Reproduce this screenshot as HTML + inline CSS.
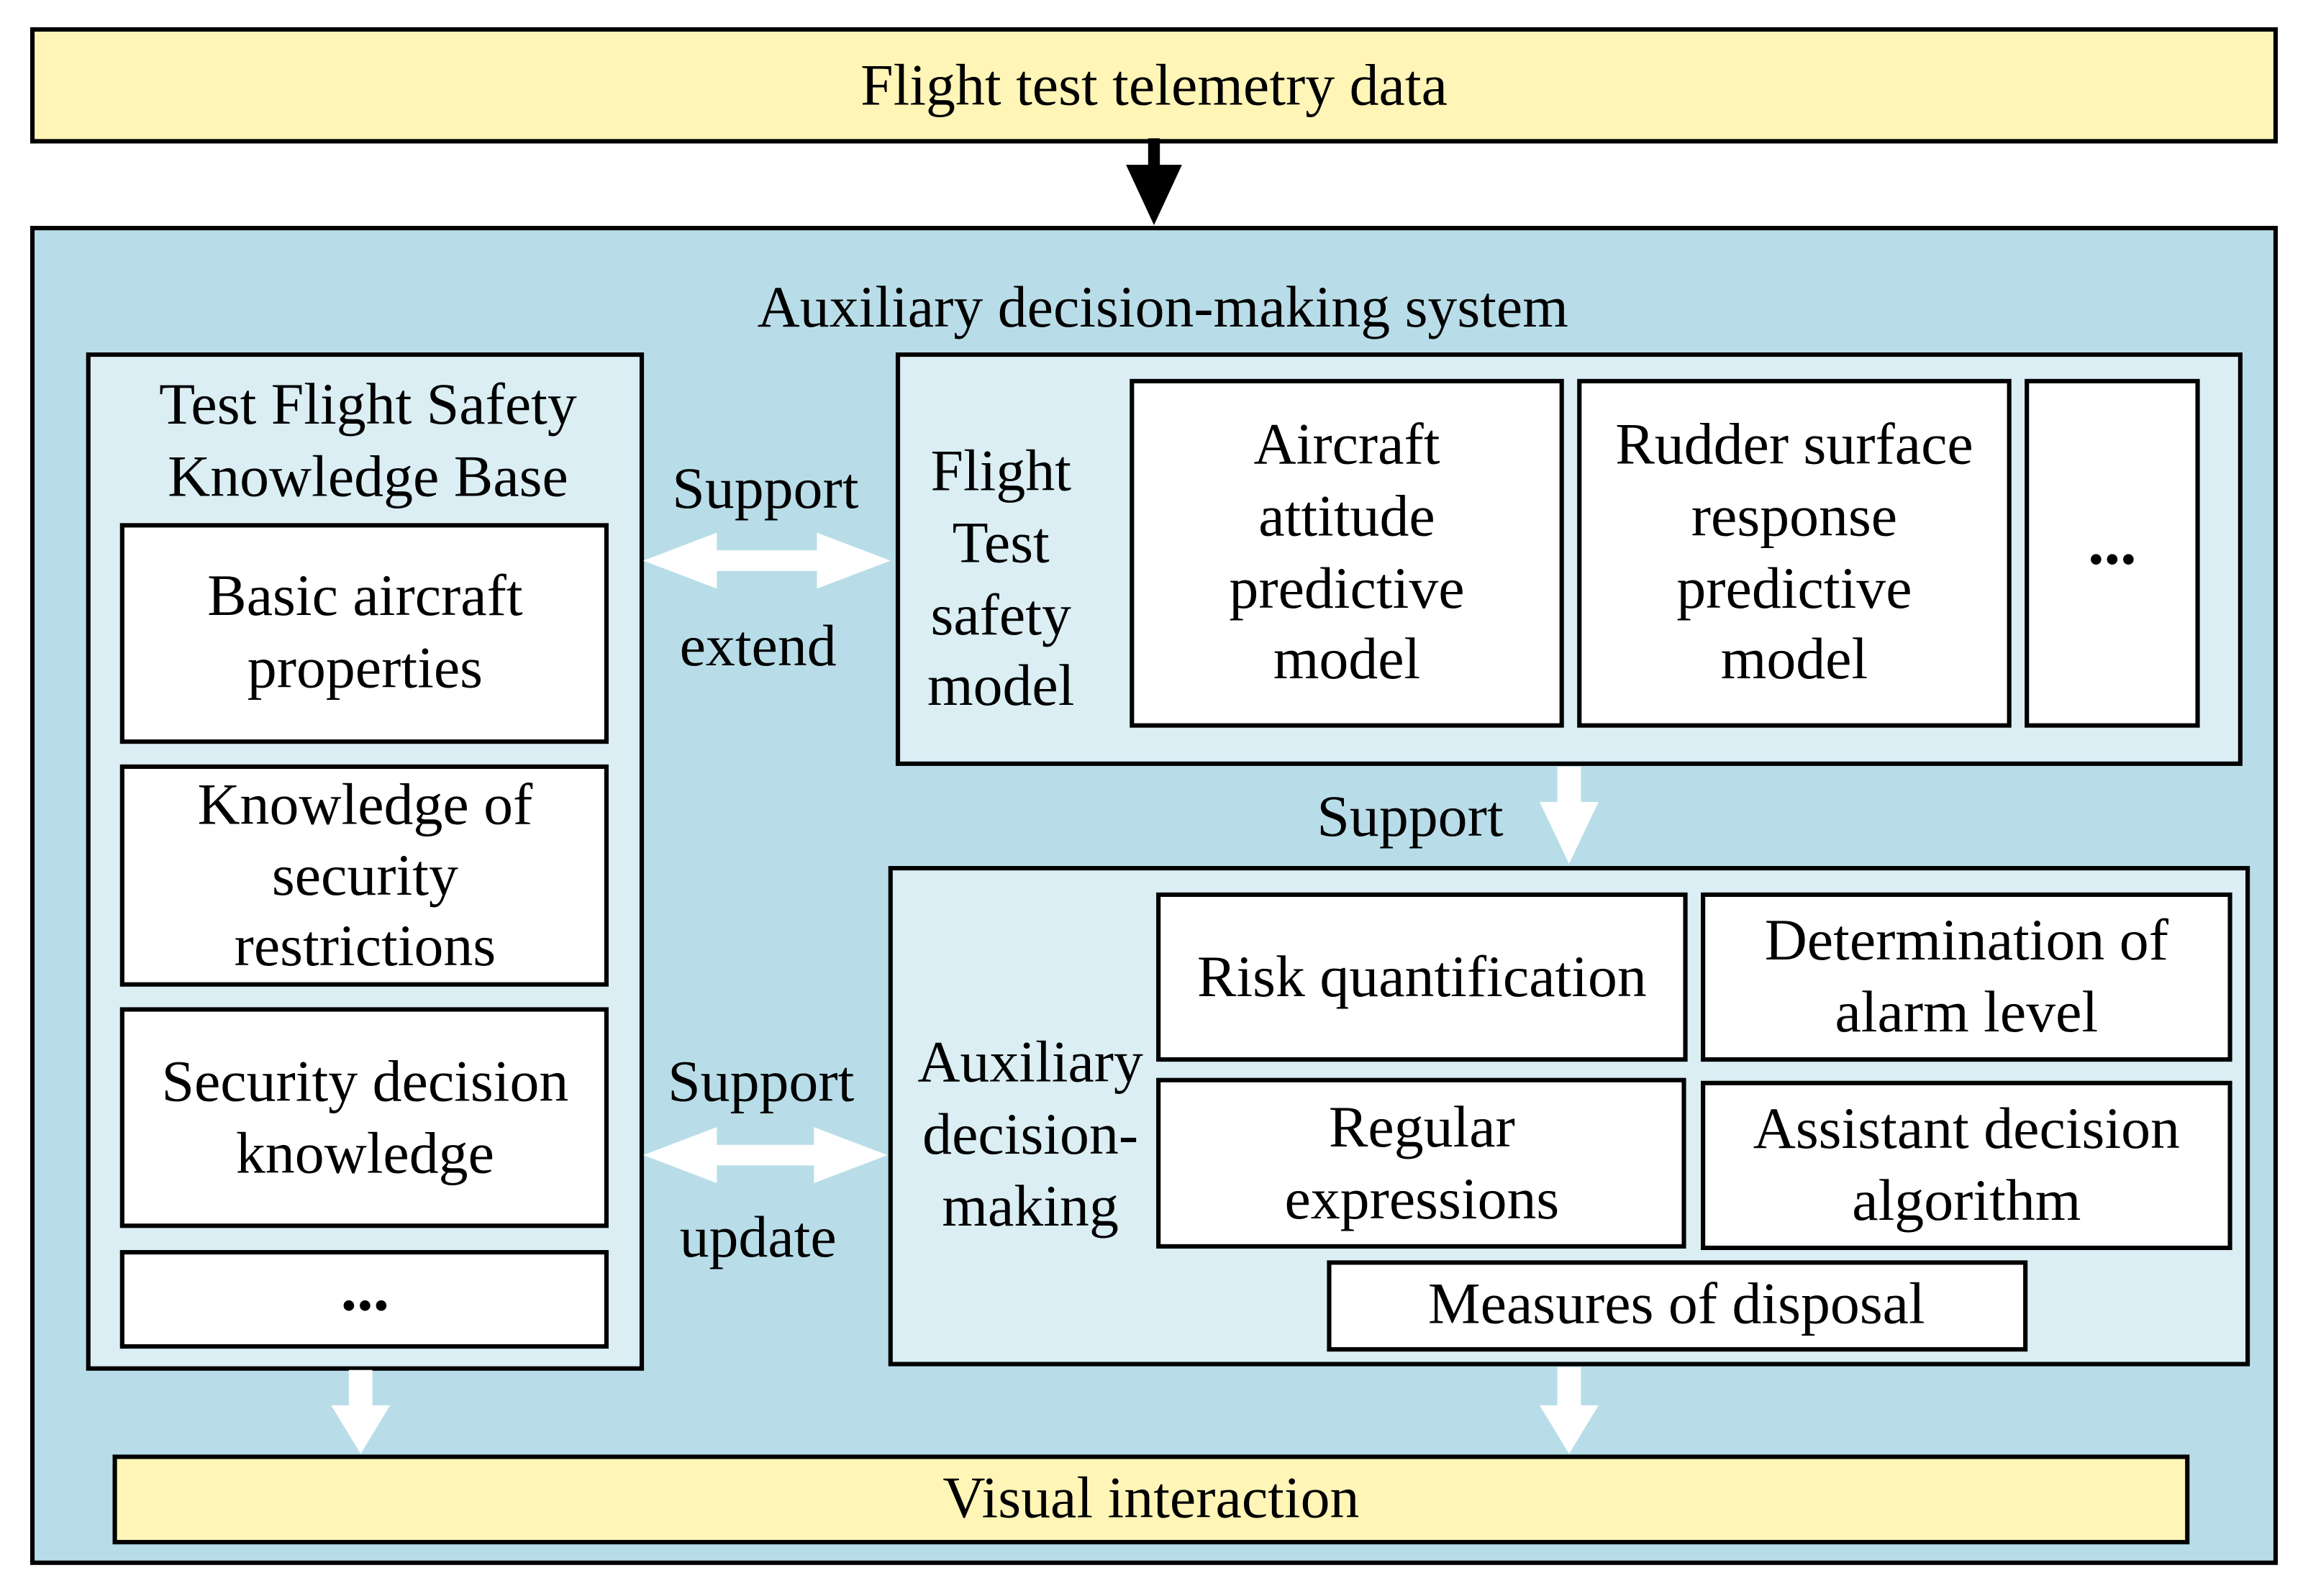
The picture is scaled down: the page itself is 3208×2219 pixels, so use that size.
<!DOCTYPE html>
<html><head><meta charset="utf-8"><style>
html,body{margin:0;padding:0;background:#fff;}
svg{display:block;}
text{font-family:"Liberation Serif",serif;font-size:40px;fill:#000;text-anchor:middle;}
</style></head><body>
<svg width="3208" height="2219" viewBox="0 0 1568 1084.6" xmlns="http://www.w3.org/2000/svg">
<rect x="0" y="0" width="1568" height="1085" fill="#fff"/>
<rect x="22" y="20" width="1524" height="76" fill="#fff5b7" stroke="#000" stroke-width="3"/>
<text x="784" y="71">Flight test telemetry data</text>
<rect x="780" y="94" width="8" height="22" fill="#000"/>
<polygon points="765,112 803,112 784,153" fill="#000"/>
<rect x="22" y="155" width="1524" height="907" fill="#b8dde8" stroke="#000" stroke-width="3"/>
<text x="790" y="222">Auxiliary decision-making system</text>
<rect x="60" y="241" width="376" height="689" fill="#daeef4" stroke="#000" stroke-width="3"/>
<text x="250" y="288">Test Flight Safety</text>
<text x="250" y="337">Knowledge Base</text>
<g fill="#fff" stroke="#000" stroke-width="3">
<rect x="83" y="357" width="329" height="147"/>
<rect x="83" y="521" width="329" height="148"/>
<rect x="83" y="686" width="329" height="147"/>
<rect x="83" y="851" width="329" height="64"/>
</g>
<text x="248" y="418">Basic aircraft</text>
<text x="248" y="467">properties</text>
<text x="248" y="560">Knowledge of</text>
<text x="248" y="608">security</text>
<text x="248" y="656">restrictions</text>
<text x="248" y="748">Security decision</text>
<text x="248" y="797">knowledge</text>
<text x="248" y="890" style="font-weight:bold;font-size:44px">...</text>
<text x="520" y="345">Support</text>
<text x="515" y="452">extend</text>
<polygon points="437,381 487,362 487,374 555,374 555,362 605,381 555,400 555,388 487,388 487,400" fill="#fff"/>
<text x="517" y="748">Support</text>
<text x="515" y="854">update</text>
<polygon points="437,785 487,766 487,778 553,778 553,766 603,785 553,804 553,792 487,792 487,804" fill="#fff"/>
<rect x="610" y="241" width="912" height="278" fill="#daeef4" stroke="#000" stroke-width="3"/>
<text x="680" y="333">Flight</text>
<text x="680" y="382">Test</text>
<text x="680" y="431">safety</text>
<text x="680" y="479">model</text>
<g fill="#fff" stroke="#000" stroke-width="3">
<rect x="769" y="259" width="292" height="234"/>
<rect x="1073" y="259" width="292" height="234"/>
<rect x="1377" y="259" width="116" height="234"/>
</g>
<text x="915" y="315">Aircraft</text>
<text x="915" y="364">attitude</text>
<text x="915" y="413">predictive</text>
<text x="915" y="461">model</text>
<text x="1219" y="315">Rudder surface</text>
<text x="1219" y="364">response</text>
<text x="1219" y="413">predictive</text>
<text x="1219" y="461">model</text>
<text x="1435" y="383" style="font-weight:bold;font-size:44px">...</text>
<text x="958" y="568">Support</text>
<polygon points="1058,521 1074,521 1074,545 1086,545 1066,587 1046,545 1058,545" fill="#fff"/>
<rect x="605" y="590" width="922" height="337" fill="#daeef4" stroke="#000" stroke-width="3"/>
<text x="700" y="735">Auxiliary</text>
<text x="700" y="784">decision-</text>
<text x="700" y="833">making</text>
<g fill="#fff" stroke="#000" stroke-width="3">
<rect x="787" y="608" width="358" height="112"/>
<rect x="1157" y="608" width="358" height="112"/>
<rect x="787" y="734" width="357" height="113"/>
<rect x="1157" y="736" width="358" height="112"/>
<rect x="903" y="858" width="473" height="59"/>
</g>
<text x="966" y="677">Risk quantification</text>
<text x="1336" y="652">Determination of</text>
<text x="1336" y="701">alarm level</text>
<text x="966" y="779">Regular</text>
<text x="966" y="828">expressions</text>
<text x="1336" y="780">Assistant decision</text>
<text x="1336" y="829">algorithm</text>
<text x="1139" y="899">Measures of disposal</text>
<polygon points="237,931 253,931 253,955 265,955 245,988 225,955 237,955" fill="#fff"/>
<polygon points="1058,929 1074,929 1074,955 1086,955 1066,988 1046,955 1058,955" fill="#fff"/>
<rect x="78" y="990" width="1408" height="58" fill="#fff5b7" stroke="#000" stroke-width="3"/>
<text x="782" y="1031">Visual interaction</text>
</svg>
</body></html>
